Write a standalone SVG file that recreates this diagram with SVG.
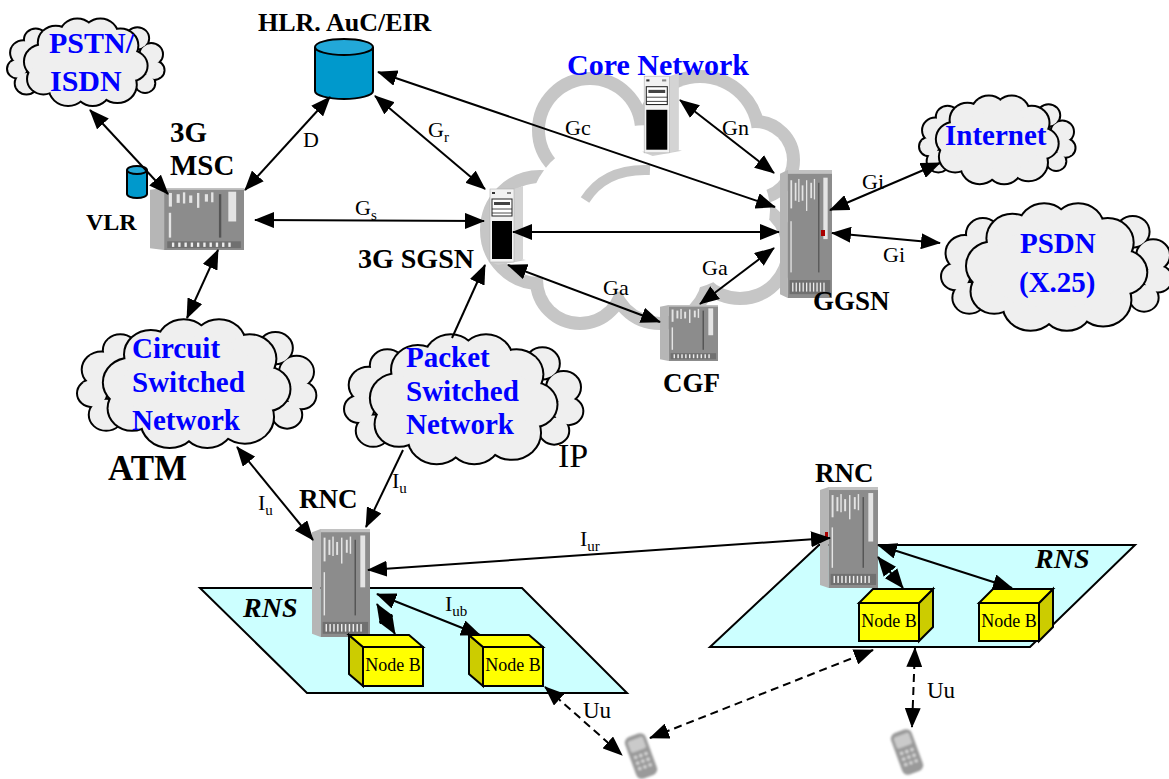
<svg xmlns="http://www.w3.org/2000/svg" xmlns:xlink="http://www.w3.org/1999/xlink" width="1169" height="779" viewBox="0 0 1169 779">
<style>
.cs{fill:none;stroke:#000;stroke-width:4}
.cf{fill:#efefef;stroke:none}
.gs{fill:none;stroke:#c6c6c6;stroke-width:26}
.gf{fill:#fff;stroke:none}
.ln{fill:none;stroke:#000;stroke-width:2}
.da{stroke-dasharray:8,5}
.t{font-family:"Liberation Serif","Times New Roman",serif;fill:#000}
.lbl{font-size:22px}
.b{font-weight:bold}
.bl{fill:#0000ff;font-weight:bold}
.nb{font-size:18px;text-anchor:middle}
.plane{fill:#ccffff;stroke:#000;stroke-width:2}
.bxf{fill:#ffff00;stroke:#000;stroke-width:2}
.bxs{fill:#cccc00;stroke:#000;stroke-width:2}
.cyl{fill:#0099cc;stroke:#000;stroke-width:2}
.cylt{fill:#22a8d8;stroke:#000;stroke-width:2}
</style>
<defs>
<marker id="ah" viewBox="0 0 20 16" refX="19" refY="8" markerWidth="20" markerHeight="16" markerUnits="userSpaceOnUse" orient="auto-start-reverse">
<path d="M0,0 L20,8 L0,16 z" fill="#000"/>
</marker>
<g id="cb">
<circle cx="10" cy="24" r="8" vector-effect="non-scaling-stroke"/>
<circle cx="6" cy="35" r="6" vector-effect="non-scaling-stroke"/>
<circle cx="12" cy="45" r="7" vector-effect="non-scaling-stroke"/>
<circle cx="18" cy="15" r="7" vector-effect="non-scaling-stroke"/>
<circle cx="84" cy="14" r="7" vector-effect="non-scaling-stroke"/>
<circle cx="93" cy="25" r="7" vector-effect="non-scaling-stroke"/>
<circle cx="95" cy="36" r="6" vector-effect="non-scaling-stroke"/>
<circle cx="89" cy="45" r="6" vector-effect="non-scaling-stroke"/>
</g>
<g id="cfr">
<circle cx="22" cy="30" r="11" vector-effect="non-scaling-stroke"/>
<circle cx="31" cy="17" r="11" vector-effect="non-scaling-stroke"/>
<circle cx="45" cy="12" r="11" vector-effect="non-scaling-stroke"/>
<circle cx="60" cy="12" r="11" vector-effect="non-scaling-stroke"/>
<circle cx="73" cy="19" r="11" vector-effect="non-scaling-stroke"/>
<circle cx="80" cy="33" r="10" vector-effect="non-scaling-stroke"/>
<circle cx="71" cy="46" r="12" vector-effect="non-scaling-stroke"/>
<circle cx="55" cy="49" r="11" vector-effect="non-scaling-stroke"/>
<circle cx="39" cy="48" r="12" vector-effect="non-scaling-stroke"/>
<circle cx="23" cy="42" r="10" vector-effect="non-scaling-stroke"/>
</g>
<ellipse id="ccore" cx="50" cy="31" rx="31" ry="19"/>
<g id="cloud">
<use xlink:href="#cb" class="cs"/>
<use xlink:href="#cb" class="cf"/>
<use xlink:href="#cfr" class="cs"/>
<use xlink:href="#cfr" class="cf"/>
<use xlink:href="#ccore" class="cf"/>
</g>
<symbol id="rack" viewBox="0 0 60 100" preserveAspectRatio="none">
<polygon points="0,3 9,0 9,100 0,97" fill="#b6b6b6"/>
<rect x="9" y="0" width="51" height="100" fill="#8c8c8c"/>
<rect x="9" y="0" width="51" height="3" fill="#c2c2c2"/>
<g fill="#e4e4e4">
<rect x="12" y="8" width="2" height="22"/>
<rect x="17" y="10" width="2" height="14"/>
<rect x="21" y="7" width="1.5" height="18"/>
<rect x="25" y="12" width="2" height="12"/>
<rect x="30" y="8" width="1.5" height="24"/>
<rect x="35" y="10" width="2" height="12"/>
<rect x="39" y="7" width="1.5" height="16"/>
<rect x="50" y="6" width="5" height="48"/>
<rect x="12" y="40" width="1.5" height="40"/>
</g>
<rect x="44" y="10" width="1.5" height="70" fill="#555"/>
<rect x="11" y="86" width="47" height="11" fill="#707070"/>
<g fill="#eee">
<rect x="14" y="88" width="1.5" height="7"/><rect x="18" y="88" width="1.5" height="7"/>
<rect x="22" y="88" width="1.5" height="7"/><rect x="26" y="88" width="1.5" height="7"/>
<rect x="30" y="88" width="1.5" height="7"/><rect x="34" y="88" width="1.5" height="7"/>
<rect x="38" y="88" width="1.5" height="7"/><rect x="42" y="88" width="1.5" height="7"/>
<rect x="46" y="88" width="1.5" height="7"/><rect x="50" y="88" width="1.5" height="7"/>
</g>
</symbol>
<symbol id="server" viewBox="0 0 40 80" preserveAspectRatio="none">
<polygon points="2,76 30,73 40,75 12,80" fill="#cfcfcf"/>
<polygon points="28,4 37,1 37,74 28,77" fill="#d4d4d4"/>
<rect x="4" y="4" width="24" height="73" fill="#f2f2f2" stroke="#b0b0b0" stroke-width="0.6"/>
<rect x="6" y="7" width="3" height="2" fill="#333"/>
<rect x="21" y="7" width="4" height="2" fill="#888"/>
<rect x="6" y="14" width="20" height="17" fill="#fff" stroke="#222" stroke-width="1"/>
<rect x="8" y="17" width="16" height="3" fill="#444"/>
<line x1="6" y1="24" x2="26" y2="24" stroke="#222" stroke-width="0.8"/>
<line x1="6" y1="28" x2="26" y2="28" stroke="#222" stroke-width="0.8"/>
<rect x="6" y="36" width="20" height="38" fill="#000"/>
</symbol>
<filter id="blur" x="-30%" y="-30%" width="160%" height="160%"><feGaussianBlur stdDeviation="1.2"/></filter>
<g id="phone">
<rect x="-11" y="-22" width="22" height="44" rx="6" fill="#9a9a9a"/>
<rect x="-8" y="-18" width="16" height="12" rx="2" fill="#cacaca"/>
<g fill="#dcdcdc">
<rect x="-7" y="-2" width="3" height="3"/><rect x="-1.5" y="-2" width="3" height="3"/><rect x="4" y="-2" width="3" height="3"/>
<rect x="-7" y="4" width="3" height="3"/><rect x="-1.5" y="4" width="3" height="3"/><rect x="4" y="4" width="3" height="3"/>
<rect x="-7" y="10" width="3" height="3"/><rect x="-1.5" y="10" width="3" height="3"/><rect x="4" y="10" width="3" height="3"/>
</g>
</g>
</defs>
<rect width="1169" height="779" fill="#fff"/>

<g id="core-network-cloud">
<circle class="gs" cx="590" cy="130" r="45"/>
<circle class="gs" cx="700" cy="135" r="52"/>
<circle class="gs" cx="755" cy="160" r="32"/>
<circle class="gs" cx="740" cy="250" r="42"/>
<circle class="gs" cx="660" cy="275" r="42"/>
<circle class="gs" cx="580" cy="280" r="37"/>
<circle class="gs" cx="540" cy="230" r="47"/>
<circle class="gf" cx="590" cy="130" r="45"/>
<circle class="gf" cx="700" cy="135" r="52"/>
<circle class="gf" cx="755" cy="160" r="32"/>
<circle class="gf" cx="740" cy="250" r="42"/>
<circle class="gf" cx="660" cy="275" r="42"/>
<circle class="gf" cx="580" cy="280" r="37"/>
<circle class="gf" cx="540" cy="230" r="47"/>
<ellipse class="gf" cx="650" cy="210" rx="120" ry="85"/>
<path d="M585,200 Q605,168 650,170" fill="none" stroke="#c6c6c6" stroke-width="10"/>
<text class="t bl" x="567" y="75" font-size="30">Core Network</text>
</g>

<g id="rns-left">
<polygon class="plane" points="200,588 522,588 627,693 307,693"/>
<text class="t b" x="243" y="617" font-size="28" font-style="italic">RNS</text>
</g>
<g id="rns-right">
<polygon class="plane" points="819,545 1135,545 1030,647 710,647"/>
<text class="t b" x="1035" y="568" font-size="28" font-style="italic">RNS</text>
</g>

<g id="pstn-isdn">
<use xlink:href="#cloud" transform="translate(8,18) scale(1.54,1.45)"/>
<text class="t bl" x="49" y="53" font-size="30">PSTN/</text>
<text class="t bl" x="50" y="91" font-size="30">ISDN</text>
</g>
<g id="internet">
<use xlink:href="#cloud" transform="translate(920,95) scale(1.53,1.47)"/>
<text class="t bl" x="945" y="145" font-size="29">Internet</text>
</g>
<g id="psdn">
<use xlink:href="#cloud" transform="translate(942,202) scale(2.27,2.13)"/>
<text class="t bl" x="1020" y="253" font-size="29">PSDN</text>
<text class="t bl" x="1019" y="292" font-size="29">(X.25)</text>
</g>
<g id="circuit-switched">
<use xlink:href="#cloud" transform="translate(78,318) scale(2.35,2.15)"/>
<text class="t bl" x="132" y="358" font-size="29">Circuit</text>
<text class="t bl" x="132" y="392" font-size="29">Switched</text>
<text class="t bl" x="132" y="430" font-size="29">Network</text>
</g>
<text class="t b" x="108" y="480" font-size="35">ATM</text>
<g id="packet-switched">
<use xlink:href="#cloud" transform="translate(345,333) scale(2.35,2.17)"/>
<text class="t bl" x="406" y="367" font-size="29">Packet</text>
<text class="t bl" x="406" y="401" font-size="29">Switched</text>
<text class="t bl" x="406" y="434" font-size="29">Network</text>
</g>
<text class="t" x="558" y="467" font-size="34">IP</text>

<g id="hlr">
<path class="cyl" d="M315,47 L315,91 A29,8 0 0 0 373,91 L373,47"/>
<ellipse class="cylt" cx="344" cy="47" rx="29" ry="8"/>
<text class="t b" x="258" y="31" font-size="26">HLR. AuC/EIR</text>
</g>
<g id="msc">
<path class="cyl" d="M127,170 L127,194 A10,4 0 0 0 147,194 L147,170"/>
<ellipse class="cylt" cx="137" cy="170" rx="10" ry="4"/>
<use xlink:href="#rack" x="150" y="188" width="94" height="62"/>
<text class="t b" x="170" y="142" font-size="29">3G</text>
<text class="t b" x="170" y="175" font-size="29">MSC</text>
<text class="t b" x="86" y="230" font-size="24">VLR</text>
</g>
<g id="sgsn">
<use xlink:href="#server" x="486" y="185" width="40" height="80"/>
<text class="t b" x="358" y="268" font-size="28">3G SGSN</text>
</g>
<g id="core-server">
<use xlink:href="#server" x="640" y="72" width="42" height="84"/>
</g>
<g id="ggsn">
<use xlink:href="#rack" x="780" y="170" width="52" height="128"/>
<rect x="821" y="230" width="4" height="6" fill="#aa0000"/>
<text class="t b" x="813" y="310" font-size="27">GGSN</text>
</g>
<g id="cgf">
<use xlink:href="#rack" x="660" y="305" width="58" height="56"/>
<text class="t b" x="663" y="392" font-size="27">CGF</text>
</g>
<g id="rnc-left">
<use xlink:href="#rack" x="312" y="529" width="58" height="108"/>
<text class="t b" x="299" y="508" font-size="27">RNC</text>
</g>
<g id="rnc-right">
<use xlink:href="#rack" x="820" y="487" width="58" height="101"/>
<rect x="825" y="532" width="3" height="5" fill="#aa0000"/>
<text class="t b" x="815" y="482" font-size="27">RNC</text>
</g>

<g id="nodeb-l1">
<polygon class="bxs" points="349,635 363,647 363,686 349,674"/>
<polygon class="bxf" points="349,635 409,635 423,647 363,647"/>
<rect class="bxf" x="363" y="647" width="60" height="39"/>
<text class="t nb" x="393" y="671">Node B</text>
</g>
<g id="nodeb-l2">
<polygon class="bxs" points="469,635 483,647 483,686 469,674"/>
<polygon class="bxf" points="469,635 529,635 543,647 483,647"/>
<rect class="bxf" x="483" y="647" width="60" height="39"/>
<text class="t nb" x="513" y="671">Node B</text>
</g>
<g id="nodeb-r1">
<polygon class="bxs" points="919,603 933,589 933,627 919,641"/>
<polygon class="bxf" points="873,589 933,589 919,603 859,603"/>
<rect class="bxf" x="859" y="603" width="60" height="38"/>
<text class="t nb" x="889" y="627">Node B</text>
</g>
<g id="nodeb-r2">
<polygon class="bxs" points="1039,603 1053,589 1053,627 1039,641"/>
<polygon class="bxf" points="993,589 1053,589 1039,603 979,603"/>
<rect class="bxf" x="979" y="603" width="60" height="38"/>
<text class="t nb" x="1009" y="627">Node B</text>
</g>

<g id="phone-1" filter="url(#blur)">
<use xlink:href="#phone" transform="translate(641,756) rotate(-20)"/>
</g>
<g id="phone-2" filter="url(#blur)">
<use xlink:href="#phone" transform="translate(907,752) rotate(-20)"/>
</g>

<g id="connectors">
<g class="ln" marker-start="url(#ah)" marker-end="url(#ah)">
<path d="M90,110 L168,194"/>
<path d="M330,97 L245,190"/>
<path d="M375,96 L485,189"/>
<path d="M378,72 L775,207"/>
<path d="M680,100 L774,173"/>
<path d="M255,220 L484,221"/>
<path d="M513,232 L779,232"/>
<path d="M508,265 L660,322"/>
<path d="M700,304 L774,248"/>
<path d="M830,210 L940,163"/>
<path d="M832,233 L940,243"/>
<path d="M218,250 L187,318"/>
<path d="M237,447 L313,540"/>
<path d="M368,570 L830,538"/>
<path d="M377,594 L480,635"/>
<path d="M377,604 L395,634"/>
<path d="M878,557 L903,588"/>
<path d="M878,545 L1012,588"/>
</g>
<g class="ln" marker-end="url(#ah)">
<path d="M452,338 L485,265"/>
<path d="M403,450 L366,527"/>
</g>
<g class="ln da" marker-start="url(#ah)" marker-end="url(#ah)">
<path d="M545,687 L622,755"/>
<path d="M650,738 L873,650"/>
<path d="M915,648 L912,727"/>
</g>
</g>

<g id="labels" class="t lbl">
<text x="303" y="147">D</text>
<text x="428" y="137">G<tspan font-size="15" dy="5">r</tspan></text>
<text x="565" y="135">Gc</text>
<text x="722" y="135">Gn</text>
<text x="355" y="215">G<tspan font-size="15" dy="5">s</tspan></text>
<text x="603" y="295">Ga</text>
<text x="702" y="275">Ga</text>
<text x="862" y="189">Gi</text>
<text x="883" y="262">Gi</text>
<text x="258" y="510">I<tspan font-size="15" dy="5">u</tspan></text>
<text x="392" y="488">I<tspan font-size="15" dy="5">u</tspan></text>
<text x="580" y="546">I<tspan font-size="15" dy="5">ur</tspan></text>
<text x="445" y="611">I<tspan font-size="15" dy="5">ub</tspan></text>
<text x="583" y="718" font-size="23">Uu</text>
<text x="927" y="698" font-size="23">Uu</text>
</g>
</svg>
